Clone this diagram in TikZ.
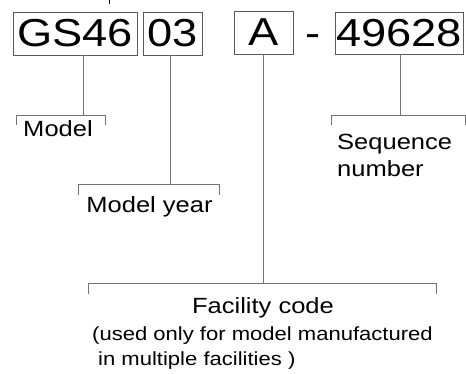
\documentclass[tikz,border=0pt]{standalone}
\usepackage{fontspec}
\setmainfont[FakeStretch=1.16]{Liberation Sans}
\begin{document}
\begin{tikzpicture}[x=1pt,y=-1pt,
  codebox/.style={draw=black!65,line width=0.8pt,inner sep=0pt,
    font=\fontsize{39}{39}\selectfont},
  conn/.style={draw=black!55,line width=0.8pt},
  lbl/.style={inner sep=0pt,font=\fontsize{22}{22}\selectfont},
  note/.style={inner sep=0pt,font=\fontsize{19}{19}\selectfont}]
\useasboundingbox (0,0) rectangle (466,374);
% code boxes
\node[codebox,minimum width=124pt,minimum height=43pt] (gs) at (75,33.5) {GS46};
\node[codebox,minimum width=59pt,minimum height=43pt] (yr) at (172.5,33.5) {03};
\node[codebox,minimum width=59pt,minimum height=43pt] (fa) at (263.5,32.5) {A};
\node[inner sep=0pt,anchor=base,font=\fontsize{39}{39}\selectfont] (dash) at (313,47) {-};
\node[codebox,minimum width=128pt,minimum height=42pt] (sq) at (399,33) {49628};
% tiny mark at top
\coordinate (t1) at (109,0); \coordinate (t2) at (109,4);
\draw[black,line width=0.8pt] (t1) -- (t2);
% Model
\coordinate (m0) at (83,115);
\coordinate (ml) at (16,115); \coordinate (mr) at (105,115);
\coordinate (mld) at (16,125); \coordinate (mrd) at (105,125);
\draw[conn] (gs.south -| m0) -- (m0);
\draw[conn] (mld) -- (ml) -- (mr) -- (mrd);
\node[lbl,anchor=base] (model) at (58,137) {Model};
% Model year
\coordinate (y0) at (170,184);
\coordinate (yl) at (78,184); \coordinate (yr2) at (219,184);
\coordinate (yld) at (78,195); \coordinate (yrd) at (219,195);
\draw[conn] (yr.south -| y0) -- (y0);
\draw[conn] (yld) -- (yl) -- (yr2) -- (yrd);
\node[lbl,anchor=base] (myear) at (149.5,213) {Model year};
% Facility code
\coordinate (f0) at (263,283);
\coordinate (fl) at (88,283); \coordinate (fr) at (436,283);
\coordinate (fld) at (88,294); \coordinate (frd) at (436,294);
\draw[conn] (fa.south -| f0) -- (f0);
\draw[conn] (fld) -- (fl) -- (fr) -- (frd);
\node[lbl,anchor=base] (fcode) at (263,313) {Facility code};
\node[note,anchor=base west] (used1) at (92,340) {(used only for model manufactured};
\node[note,anchor=base west] (used2) at (98,365) {in multiple facilities )};
% Sequence number
\coordinate (s0) at (400,115);
\coordinate (sl) at (331,115); \coordinate (sr) at (465.5,115);
\coordinate (sld) at (331,125); \coordinate (srd) at (465.5,125);
\draw[conn] (sq.south -| s0) -- (s0);
\draw[conn] (sld) -- (sl) -- (sr) -- (srd);
\node[lbl,anchor=base west] (seq1) at (337,150) {Sequence};
\node[lbl,anchor=base west] (seq2) at (337,177) {number};
\end{tikzpicture}
\end{document}
